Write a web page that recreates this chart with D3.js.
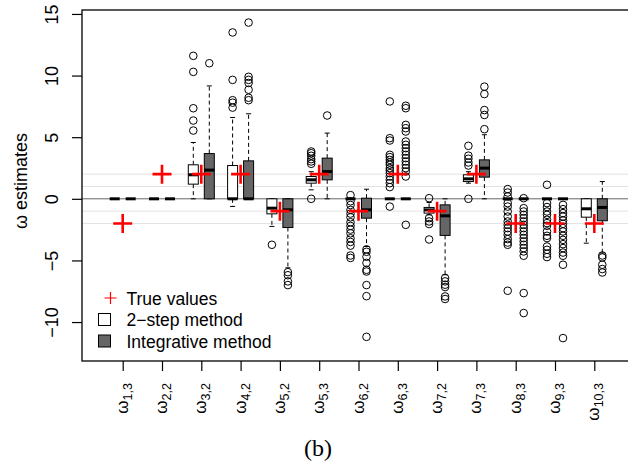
<!DOCTYPE html>
<html>
<head>
<meta charset="utf-8">
<script src="https://cdn.jsdelivr.net/npm/d3@7"></script>
<style>
body { margin: 0; background: #fff; }
svg { display: block; font-family: "Liberation Sans", Arial, sans-serif; }
</style>
</head>
<body>
<div id="chart"></div>
<script>
// parameter names (subscripts of omega)
var labels = ["1,3", "2,2", "3,2", "4,2", "5,2", "5,3", "6,2", "6,3", "7,2", "7,3", "8,3", "9,3", "10,3"]
var trueValues = [-2, 2, 2, 2, -1, 2, -1, 2, -1, 2, -2, -2, -2]

// box stats: [lower whisker, q1, median, q3, upper whisker]
var twoStepStats = [
    [0, 0, 0, 0, 0], [0, 0, 0, 0, 0],
    [0, 1.19, 1.95, 2.76, 4.57], [-0.62, 0, 0, 2.7, 6.6],
    [-2.24, -1.22, -0.76, 0, 0], [0.73, 1.27, 1.54, 1.81, 2.2],
    [0, 0, 0, 0, 0], [0, 0, 0, 0, 0],
    [-1.3, -1.16, -0.9, -0.7, -0.3], [1.27, 1.4, 1.62, 1.95, 2.2],
    [0, 0, 0, 0, 0], [0, 0, 0, 0, 0],
    [-3.6, -1.49, -0.81, 0, 0]
]
var twoStepOut = [
    [], [],
    [11.6, 10.3, 7.35, 6.35, 5.54],
    [13.5, 9.65, 8.0, 7.8, 7.4],
    [-3.73],
    [3.84, 3.7, 3.49, 3.22, 3.03, 2.84, 0],
    [0.3, -0.2, -0.5, -0.9, -1.2, -1.5, -1.9, -2.2, -2.5, -2.8, -3.2, -3.5, -3.8, -4.6, -4.8],
    [7.9, 4.92, 4.73, 3.57, 3.38, 3.16, 2.95, 2.76, 2.49, 2.3, 2.08, 1.81, 1.54, 1.27, 0.95, -0.63],
    [0.05, -1.57, -1.84, -2.05, -3.3],
    [4.3, 3.5, 3.25, 2.95, 2.7, 0],
    [0.79, 0.51, 0.19, -0.35, -0.63, -1.03, -1.44, -1.84, -2.11, -2.38, -2.65, -2.92, -3.27, -3.55, -3.73, -7.46],
    [1.14, -0.35, -0.67, -1.03, -1.3, -1.7, -1.97, -2.19, -2.65, -3.0, -3.19, -3.87, -4.14, -4.46, -4.73],
    []
]
var integStats = [
    [0, 0, 0, 0, 0], [0, 0, 0, 0, 0],
    [0, 0, 2.33, 3.67, 9.16], [0, 0, 0, 3.08, 6.9],
    [-5.6, -2.33, -0.89, 0, 0], [0, 1.54, 2.21, 3.3, 5.33],
    [-3.87, -1.57, -0.89, 0.05, 0.78], [0, 0, 0, 0, 0],
    [-6.16, -2.97, -1.38, -0.49, 0], [0, 1.76, 2.49, 3.16, 5.2],
    [0, 0, 0, 0, 0], [0, 0, 0, 0, 0],
    [-4.4, -1.78, -0.7, 0, 1.4]
]
var integOut = [
    [], [],
    [11.0],
    [14.3, 9.9, 9.65, 9.4, 8.85, 8.2, 8.0],
    [-5.95, -6.2, -6.7, -7.0],
    [6.76],
    [-4.1, -4.3, -4.7, -5.2, -5.76, -5.9, -7.0, -7.9, -11.2],
    [7.55, 7.35, 6.0, 5.73, 5.46, 4.65, 4.38, 4.11, 3.84, 3.57, 3.3, 3.03, 2.76, 2.49, 2.22, 1.81, -2.11],
    [-6.43, -6.7, -6.97, -7.16, -7.92, -8.13],
    [9.1, 8.5, 7.2, 6.8, 5.65],
    [0.05, -0.76, -1.03, -1.3, -1.57, -1.84, -2.11, -2.38, -2.65, -2.92, -3.19, -3.46, -3.73, -4.0, -4.27, -4.62, -7.65, -9.27],
    [-0.49, -0.84, -1.16, -1.44, -1.76, -2.03, -2.38, -2.65, -3.0, -3.33, -3.68, -4.0, -4.36, -4.62, -5.35, -11.3],
    [-4.6, -4.76, -5.35, -5.7, -5.98]
]
var yTicks = [-10, -5, 0, 5, 10, 15]
var refLines = [-2, -1, 1, 2]
var legendLabels = ["True values", "2\u2212step method", "Integrative method"]

var width = 628
var height = 464
var plot = {left: 82, top: 10, right: 640, bottom: 361}   // box runs off the right edge
var boxW = 10
var offset = 8

var svg = d3.select("#chart")
    .append("svg")
        .attr("width", width)
        .attr("height", height)

var x = d3.scalePoint()
    .domain(labels)
    .range([122.7, 594.3])

var y = d3.scaleLinear()
    .domain([-13.16, 15.32])
    .range([plot.bottom, plot.top])

// reference lines
svg.append("g")
    .selectAll("line")
    .data(refLines)
    .enter()
    .append("line")
        .attr("x1", plot.left)
        .attr("x2", width)
        .attr("y1", d => y(d))
        .attr("y2", d => y(d))
        .attr("stroke", "#e2e2e2")
        .attr("stroke-width", 1)

svg.append("line")
    .attr("x1", plot.left)
    .attr("x2", width)
    .attr("y1", y(0))
    .attr("y2", y(0))
    .attr("stroke", "#666")
    .attr("stroke-width", 1)

//// boxes ////
function drawBoxes(stats, outs, dx, fill) {
    var g = svg.append("g")
    stats.forEach(function(s, i) {
        var cx = x(labels[i]) + dx
        var lo = s[0], q1 = s[1], med = s[2], q3 = s[3], hi = s[4]
        // whiskers
        g.append("line")
            .attr("x1", cx).attr("x2", cx)
            .attr("y1", y(q3)).attr("y2", y(hi))
            .attr("stroke", "black").attr("stroke-dasharray", "4,3")
        g.append("line")
            .attr("x1", cx).attr("x2", cx)
            .attr("y1", y(q1)).attr("y2", y(lo))
            .attr("stroke", "black").attr("stroke-dasharray", "4,3")
        // staples
        g.selectAll(null)
            .data([lo, hi])
            .enter()
            .append("line")
                .attr("x1", cx - boxW / 4).attr("x2", cx + boxW / 4)
                .attr("y1", d => y(d)).attr("y2", d => y(d))
                .attr("stroke", "black")
        // box
        g.append("rect")
            .attr("x", cx - boxW / 2)
            .attr("y", y(q3))
            .attr("width", boxW)
            .attr("height", y(q1) - y(q3))
            .attr("fill", fill)
            .attr("stroke", "black")
        // median
        g.append("line")
            .attr("x1", cx - boxW / 2).attr("x2", cx + boxW / 2)
            .attr("y1", y(med)).attr("y2", y(med))
            .attr("stroke", "black")
            .attr("stroke-width", 3)
        // outliers
        g.selectAll(null)
            .data(outs[i])
            .enter()
            .append("circle")
                .attr("cx", cx)
                .attr("cy", d => y(d))
                .attr("r", 3.8)
                .attr("fill", "none")
                .attr("stroke", "black")
    })
}
drawBoxes(twoStepStats, twoStepOut, -offset, "white")
drawBoxes(integStats, integOut, offset, "#666")

// true values
var cross = 9.5
var tv = svg.append("g")
    .attr("stroke", "red")
    .attr("stroke-width", 2.6)
tv.selectAll(null)
    .data(trueValues)
    .enter()
    .append("path")
        .attr("d", (d, i) => {
            var cx = x(labels[i]), cy = y(d)
            return "M" + (cx - cross) + "," + cy + "H" + (cx + cross) +
                "M" + cx + "," + (cy - cross) + "V" + (cy + cross)
        })

// frame
svg.append("rect")
    .attr("x", plot.left)
    .attr("y", plot.top)
    .attr("width", plot.right - plot.left)
    .attr("height", plot.bottom - plot.top)
    .attr("fill", "none")
    .attr("stroke", "black")
    .attr("stroke-width", 1.3)

//// axes ////
var yAxis = svg.append("g")
    .attr("transform", "translate(" + plot.left + ",0)")
    .call(d3.axisLeft(y).tickValues(yTicks).tickSize(10).tickFormat(d => d < 0 ? "\u2212" + Math.abs(d) : d))
yAxis.select(".domain").remove()
yAxis.selectAll("line").attr("stroke-width", 1.2)
yAxis.selectAll("text")
    .attr("x", null)
    .attr("dy", null)
    .attr("text-anchor", "middle")
    .attr("transform", "translate(-24,0) rotate(-90)")
    .attr("font-size", 18)
    .attr("font-family", "Liberation Sans, Arial, sans-serif")
    .attr("fill", "black")

var xAxis = svg.append("g")
    .attr("transform", "translate(0," + plot.bottom + ")")
    .call(d3.axisBottom(x).tickSize(10).tickFormat(""))
xAxis.select(".domain").remove()
xAxis.selectAll("line").attr("stroke-width", 1.2)

var xl = svg.append("g")
    .selectAll("text")
    .data(labels)
    .enter()
    .append("text")
        .attr("transform", d => "translate(" + (x(d) + 5) + ",383) rotate(-90)")
        .attr("text-anchor", "end")
xl.append("tspan")
    .attr("font-size", 17)
    .text("\u03c9")
xl.append("tspan")
    .attr("font-size", 12.5)
    .attr("dy", 4)
    .text(d => d)

// y title
svg.append("text")
    .attr("transform", "translate(27,181) rotate(-90)")
    .attr("text-anchor", "middle")
    .attr("font-size", 18)
    .text("\u03c9 estimates")

//// legend ////
var lg = svg.append("g")
var rowY = [298, 319.5, 341]
lg.append("path")
    .attr("d", "M104.5," + rowY[0] + "H116.5M110.5," + (rowY[0] - 6) + "V" + (rowY[0] + 6))
    .attr("stroke", "red")
    .attr("stroke-width", 1.2)
lg.selectAll("rect")
    .data(["white", "#666"])
    .enter()
    .append("rect")
        .attr("x", 98.5)
        .attr("y", (d, i) => rowY[i + 1] - 6)
        .attr("width", 12)
        .attr("height", 12)
        .attr("fill", d => d)
        .attr("stroke", "black")
lg.selectAll("text")
    .data(legendLabels)
    .enter()
    .append("text")
        .attr("x", 126.5)
        .attr("y", (d, i) => rowY[i] + 6.5)
        .attr("font-size", 17.5)
        .text(d => d)

// panel caption
svg.append("text")
    .attr("x", 318)
    .attr("y", 456)
    .attr("text-anchor", "middle")
    .attr("font-family", "Liberation Serif, Times New Roman, serif")
    .attr("font-size", 24)
    .text("(b)")
</script>
</body>
</html>
